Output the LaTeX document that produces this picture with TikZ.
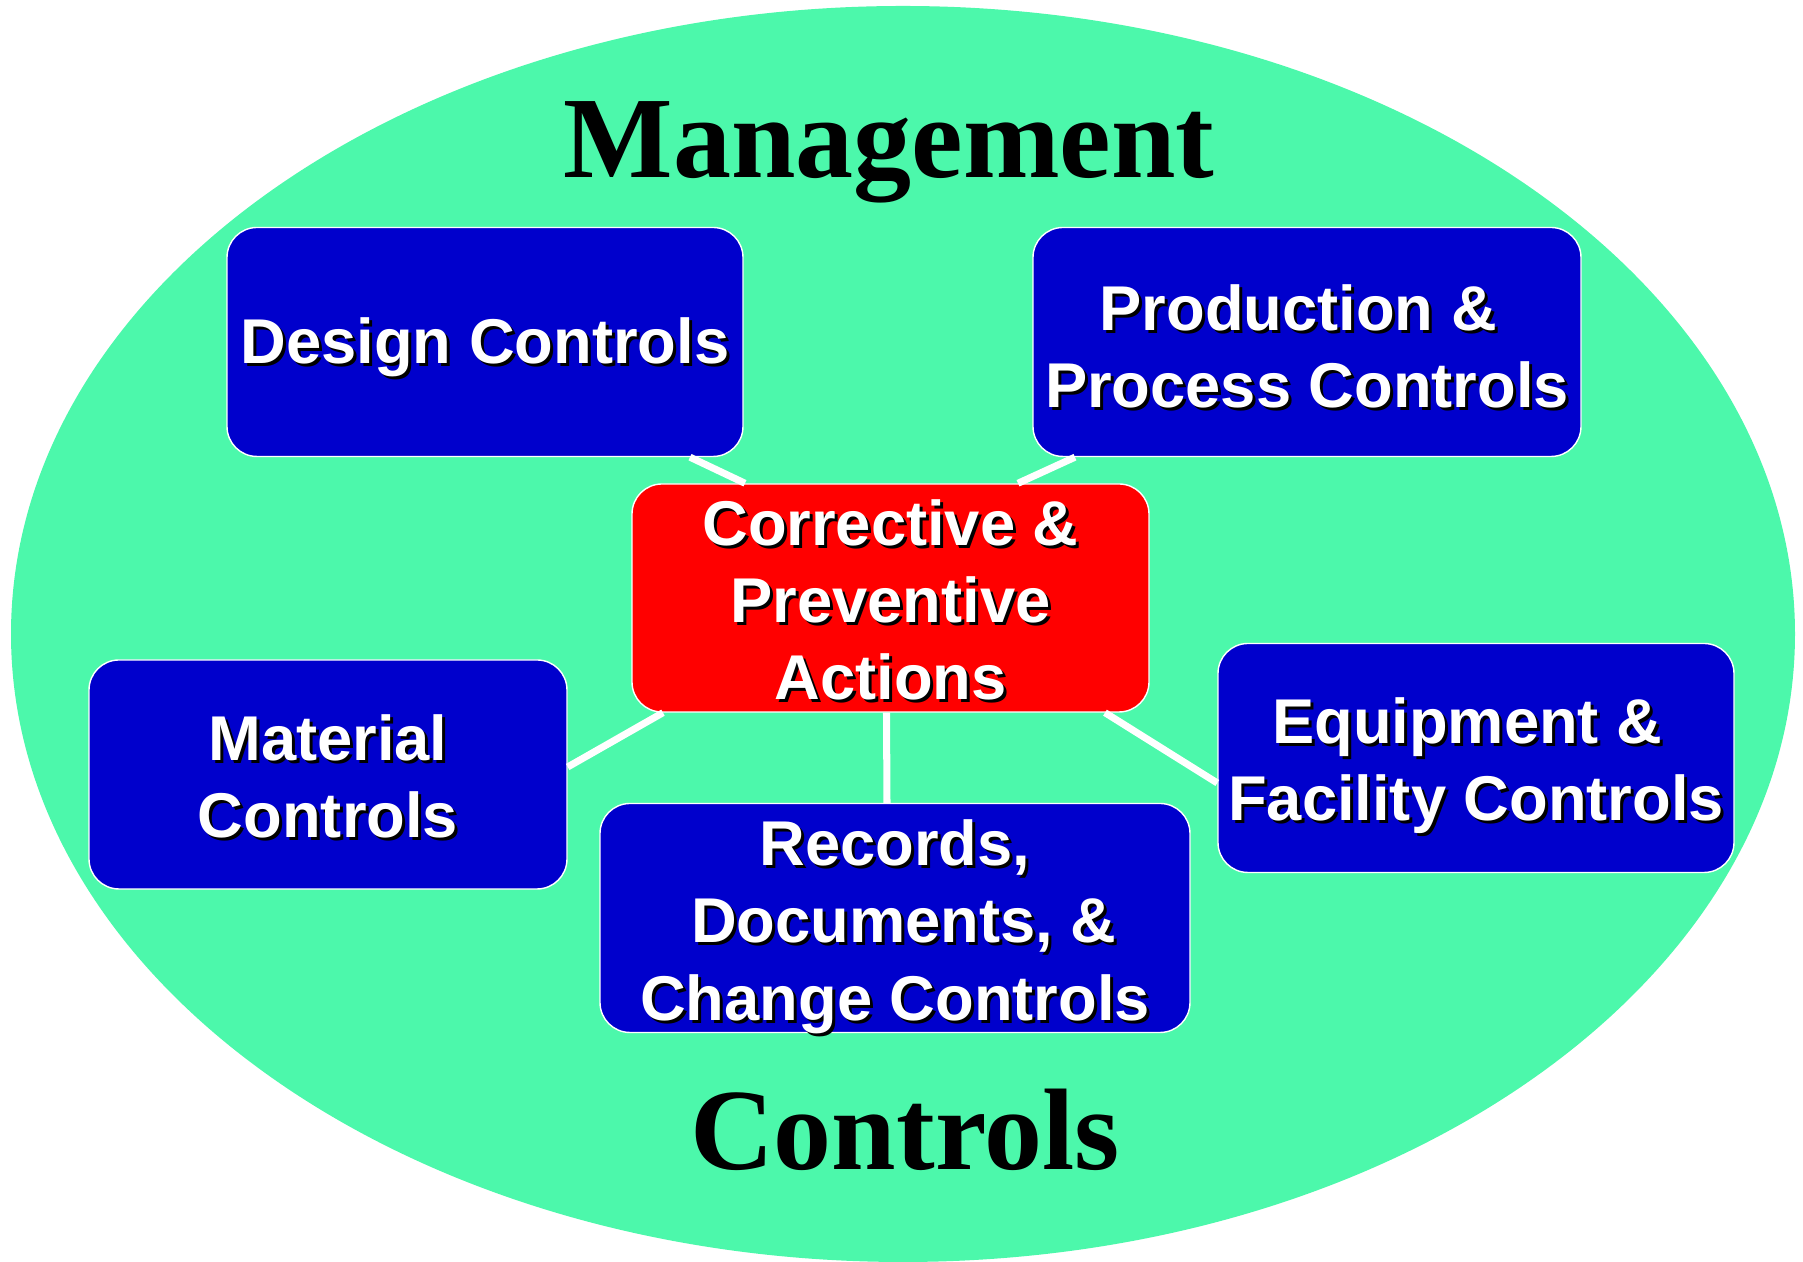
\documentclass[tikz,border=0pt]{standalone}
\usepackage{fontspec}
\setmainfont{Liberation Sans}
\newfontfamily\headfont{Liberation Serif}
\definecolor{field-green}{HTML}{4CF8AB}
\definecolor{control-blue}{HTML}{0000CC}
\definecolor{action-red}{HTML}{FF0000}

% white label with a small black drop shadow, set a little low in its line
\newlength{\textdrop}
\newcommand{\shadowed}[1]{\leavevmode\raisebox{-\textdrop}[\height][\depth]{%
  \rlap{\kern0.03cm\raisebox{-0.03cm}{\color{black}#1}}#1}}

\tikzset{
  drop/.code={\setlength{\textdrop}{#1}},
  ctrlbox/.style={draw=white, line width=0.4pt, fill=control-blue, rounded corners=0.3cm,
    minimum width=5.16cm, minimum height=2.29cm, align=center, text=white,
    font=\fontsize{18}{22}\selectfont\bfseries, inner sep=0pt, drop=0.07cm},
  link/.style={white, line width=2pt},
  heading/.style={font=\headfont\fontsize{33}{40}\selectfont\bfseries, anchor=base}
}

\begin{document}
\begin{tikzpicture}
    % Diagram: QS subsystems around corrective & preventive actions.
    % Coordinates: (x, y) in cm, origin at lower left of an 18.03 x 12.62 page
    %   ellipse centred (9.03,6.28), radii 8.92 x 6.28
    %   CAPA box in the middle, five control boxes around it
    \useasboundingbox (0,0) rectangle (18.03,12.62);
    \fill[field-green] (9.03,6.28) ellipse [x radius=8.92, y radius=6.28];
    \node[heading] (mgmt) at (8.89,10.84) {Management};
    \node[heading] (ctrl) at (9.05,0.92) {Controls};

    \node[ctrlbox] (design) at (4.85,9.20) {\shadowed{Design Controls}};
    \node[ctrlbox, minimum width=5.48cm, drop=0.06cm] (production) at (13.07,9.20)
          {\shadowed{Production \&\ }\\\shadowed{Process Controls}};
    \node[ctrlbox, fill=action-red, minimum width=5.17cm, minimum height=2.28cm, drop=0.035cm]
          (capa) at (8.905,6.64)
          {\shadowed{Corrective \&}\\\shadowed{Preventive}\\\shadowed{Actions}};
    \node[ctrlbox, minimum width=4.78cm, drop=0.035cm] (material) at (3.28,4.875)
          {\shadowed{Material}\\\shadowed{Controls}};
    \node[ctrlbox, minimum width=5.90cm, drop=0.1cm] (records) at (8.95,3.44)
          {\shadowed{Records,}\\\shadowed{\ Documents, \&}\\\shadowed{Change Controls}};
    \node[ctrlbox, drop=0.09cm] (equipment) at (14.76,5.04)
          {\shadowed{Equipment \&\ }\\\shadowed{Facility Controls}};

    % spokes from each control box to the CAPA box
    \draw[link] ([xshift=2.05cm]design.south) -- ([xshift=-1.455cm]capa.north);
    \draw[link] ([xshift=-2.32cm]production.south) -- ([xshift=1.275cm]capa.north);
    \draw[link] ([yshift=0.075cm]material.east) -- ([xshift=-2.275cm]capa.south);
    \draw[link] ([xshift=-0.08cm]records.north) -- ([xshift=-0.04cm]capa.south);
    \draw[link] ([yshift=-0.25cm]equipment.west) -- ([xshift=2.145cm]capa.south);
  \end{tikzpicture}
\end{document}
